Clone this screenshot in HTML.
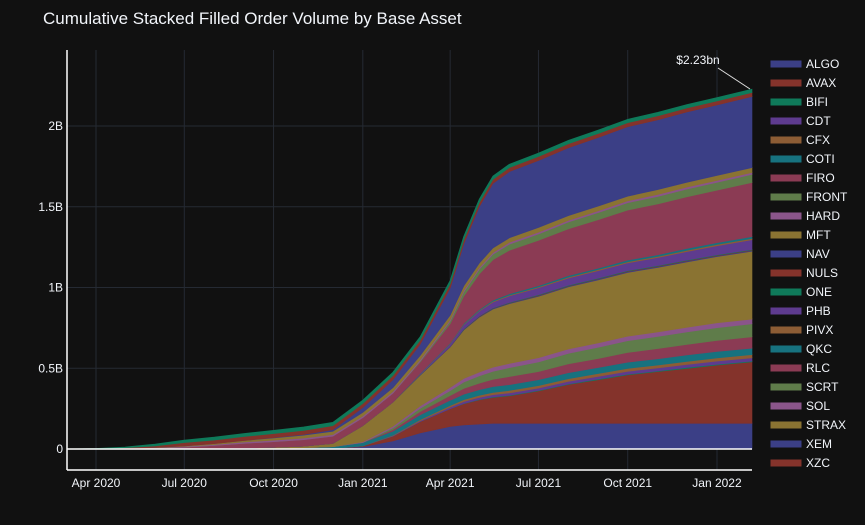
<!DOCTYPE html>
<html><head><meta charset="utf-8"><style>
html,body{margin:0;padding:0;background:#111111;}
svg{display:block;font-family:"Liberation Sans",sans-serif;}
</style></head><body>
<svg id="chart" width="865" height="525" viewBox="0 0 865 525">
<rect width="865" height="525" fill="#111111"/>
<text x="43" y="24" fill="#f2f5fa" font-size="17">Cumulative Stacked Filled Order Volume by Base Asset</text>
<g id="grid"></g>
<g id="areas"></g>
<g id="axes"></g>
<g id="legend"></g>
<line x1="718" y1="68" x2="750" y2="89" stroke="#e0e0e0" stroke-width="1"/>
<text x="698" y="64" fill="#f2f5fa" font-size="12" text-anchor="middle">$2.23bn</text>
</svg>
<script>
const dates = ["2020-03-02","2020-04-01","2020-05-01","2020-06-01","2020-07-01","2020-08-01","2020-09-01","2020-10-01","2020-11-01","2020-12-01","2021-01-01","2021-02-01","2021-03-01","2021-04-01","2021-04-15","2021-05-01","2021-05-15","2021-06-01","2021-07-01","2021-08-01","2021-09-01","2021-10-01","2021-11-01","2021-12-01","2022-01-01","2022-02-06"];
const seriesNames = ["ALGO","AVAX","BIFI","CDT","CFX","COTI","FIRO","FRONT","HARD","MFT","NAV","NULS","ONE","PHB","PIVX","QKC","RLC","SCRT","SOL","STRAX","XEM","XZC","OTHER"];
const ALGO  = [0,0,0,0,0,0,0,0,0,0.003,0.015,0.05,0.1,0.14,0.15,0.155,0.16,0.16,0.16,0.16,0.16,0.16,0.16,0.16,0.16,0.16];
const AVAX  = [0,0,0,0,0,0,0,0,0,0,0.005,0.03,0.07,0.11,0.13,0.15,0.16,0.17,0.2,0.24,0.27,0.3,0.32,0.34,0.36,0.38];
const BIFI  = [0,0,0,0,0,0,0,0,0,0,0,0,0,0,0.002,0.002,0.003,0.003,0.003,0.004,0.004,0.004,0.004,0.005,0.005,0.005];
const CDT   = [0,0,0,0,0,0,0,0,0,0,0,0.003,0.006,0.01,0.012,0.013,0.014,0.015,0.015,0.016,0.017,0.018,0.018,0.019,0.02,0.02];
const CFX   = [0,0,0,0,0,0,0,0,0,0,0,0.003,0.006,0.01,0.012,0.013,0.014,0.015,0.015,0.016,0.017,0.018,0.018,0.019,0.02,0.02];
const COTI  = [0,0,0,0,0,0,0.002,0.005,0.008,0.012,0.02,0.025,0.03,0.032,0.034,0.035,0.036,0.036,0.037,0.037,0.038,0.038,0.039,0.04,0.04,0.04];
const FIRO  = [0,0,0,0,0,0,0,0,0,0,0,0.01,0.02,0.03,0.035,0.04,0.045,0.05,0.05,0.055,0.055,0.06,0.063,0.065,0.068,0.07];
const FRONT = [0,0,0,0,0,0,0,0,0,0,0,0.01,0.02,0.03,0.04,0.045,0.05,0.055,0.06,0.065,0.07,0.073,0.075,0.077,0.079,0.08];
const HARD  = [0,0,0,0,0,0,0,0,0,0,0.005,0.01,0.015,0.02,0.022,0.024,0.025,0.026,0.026,0.027,0.027,0.028,0.028,0.029,0.03,0.03];
const MFT   = [0,0,0,0,0,0.002,0.004,0.006,0.01,0.02,0.1,0.15,0.19,0.25,0.3,0.34,0.36,0.37,0.38,0.385,0.39,0.395,0.4,0.405,0.41,0.42];
const NAV   = [0,0,0,0,0,0,0,0,0,0,0,0,0.001,0.002,0.003,0.003,0.004,0.004,0.004,0.004,0.005,0.005,0.005,0.005,0.005,0.005];
const NULS  = [0,0,0,0,0,0,0,0,0,0,0,0,0.001,0.001,0.002,0.002,0.002,0.002,0.003,0.003,0.003,0.003,0.003,0.003,0.003,0.003];
const ONE   = [0,0,0,0,0,0,0,0,0,0,0,0,0.001,0.001,0.002,0.002,0.002,0.002,0.003,0.003,0.003,0.003,0.003,0.003,0.003,0.003];
const PHB   = [0,0,0,0,0,0,0,0,0,0,0,0,0.005,0.015,0.025,0.03,0.035,0.04,0.042,0.044,0.046,0.048,0.05,0.053,0.056,0.06];
const PIVX  = [0,0,0,0,0,0,0,0,0,0,0,0,0.001,0.002,0.003,0.004,0.005,0.005,0.006,0.006,0.007,0.007,0.007,0.008,0.008,0.008];
const QKC   = [0,0,0,0,0,0,0,0,0,0,0,0,0.002,0.004,0.005,0.006,0.007,0.008,0.008,0.009,0.009,0.01,0.01,0.011,0.011,0.012];
const RLC   = [0,0.001,0.003,0.006,0.012,0.02,0.03,0.035,0.04,0.045,0.05,0.055,0.07,0.12,0.17,0.22,0.25,0.27,0.28,0.29,0.3,0.31,0.315,0.32,0.325,0.335];
const SCRT  = [0,0,0,0,0,0,0,0,0,0,0,0,0.005,0.015,0.025,0.03,0.035,0.038,0.04,0.042,0.044,0.046,0.047,0.048,0.049,0.05];
const SOL   = [0,0,0.001,0.002,0.004,0.006,0.008,0.009,0.01,0.01,0.01,0.01,0.01,0.01,0.01,0.01,0.01,0.011,0.011,0.011,0.011,0.011,0.012,0.012,0.012,0.012];
const STRAX = [0,0,0,0.002,0.004,0.006,0.01,0.014,0.018,0.02,0.022,0.024,0.026,0.027,0.028,0.028,0.028,0.028,0.029,0.029,0.029,0.029,0.03,0.03,0.03,0.03];
const XEM   = [0,0,0,0,0,0,0,0.002,0.005,0.01,0.03,0.05,0.07,0.17,0.26,0.35,0.4,0.41,0.415,0.42,0.425,0.43,0.432,0.435,0.437,0.44];
const XZC   = [0,0.001,0.004,0.01,0.02,0.022,0.024,0.025,0.025,0.025,0.025,0.025,0.025,0.025,0.025,0.025,0.025,0.025,0.025,0.025,0.025,0.025,0.025,0.025,0.025,0.025];
const OTHER = [0,0.001,0.004,0.01,0.015,0.017,0.018,0.019,0.02,0.02,0.02,0.02,0.02,0.02,0.02,0.02,0.02,0.02,0.02,0.02,0.02,0.02,0.02,0.02,0.02,0.02];
const seriesValues = [ALGO,AVAX,BIFI,CDT,CFX,COTI,FIRO,FRONT,HARD,MFT,NAV,NULS,ONE,PHB,PIVX,QKC,RLC,SCRT,SOL,STRAX,XEM,XZC,OTHER];
const yTickValues = [0,0.5,1,1.5,2];
const yTickLabels = ["0","0.5B","1B","1.5B","2B"];
const xTickDates = ["2020-04-01","2020-07-01","2020-10-01","2021-01-01","2021-04-01","2021-07-01","2021-10-01","2022-01-01"];
const xTickLabels = ["Apr 2020","Jul 2020","Oct 2020","Jan 2021","Apr 2021","Jul 2021","Oct 2021","Jan 2022"];

const palette = ["#3b3f86","#84332b","#0f7a5a","#5e3b8f","#8d5d35","#17727f","#8b3b54","#5f7c4a","#8a558a","#8a7332"];
const NS = "http://www.w3.org/2000/svg";
const X0 = Date.UTC(2020,3,1), PXD = 0.9703, XA = 96;
function xs(d){const p=d.split("-").map(Number);return XA+(Date.UTC(p[0],p[1]-1,p[2])-X0)/86400000*PXD;}
function ys(v){return 449 - v*161.5;}
function mk(tag, attrs, parent){const e=document.createElementNS(NS,tag);for(const k in attrs)e.setAttribute(k,attrs[k]);parent.appendChild(e);return e;}

const grid=document.getElementById("grid");
yTickValues.forEach((v,i)=>{
  if(v!==0){const l=mk("line",{x1:67,x2:752,y1:ys(v),y2:ys(v),stroke:"#252a33","stroke-width":1},grid);
  
  }
  const t=mk("text",{x:63,y:ys(v)+4,fill:"#f2f5fa","font-size":12,"text-anchor":"end"},grid);
  t.textContent=yTickLabels[i];
  
  
});
xTickDates.forEach((d,i)=>{
  const l=mk("line",{x1:xs(d),x2:xs(d),y1:50,y2:470,stroke:"#252a33","stroke-width":1},grid);
  
  
  const t=mk("text",{x:xs(d),y:487,fill:"#f2f5fa","font-size":12,"text-anchor":"middle"},grid);
  t.textContent=xTickLabels[i];
  
  
});

const areas=document.getElementById("areas");
let base=dates.map(()=>0);
seriesValues.forEach((vals,si)=>{
  const top=base.map((b,i)=>b+vals[i]);
  let d="M"+dates.map((dt,i)=>xs(dt).toFixed(1)+","+ys(top[i]).toFixed(1)).join("L");
  for(let i=dates.length-1;i>=0;i--) d+="L"+xs(dates[i]).toFixed(1)+","+ys(base[i]).toFixed(1);
  d+="Z";
  const c=palette[si%10];
  const p=mk("path",{d:d,fill:c,stroke:c,"stroke-width":0.8},areas);
  
  
  base=top;
});

const axes=document.getElementById("axes");
const zl=mk("line",{x1:67,x2:752,y1:449,y2:449,stroke:"#ffffff","stroke-width":1.5},axes);


const xa=mk("line",{x1:67,x2:752,y1:470,y2:470,stroke:"#ffffff","stroke-width":1.5},axes);


const ya=mk("line",{x1:67,x2:67,y1:50,y2:470,stroke:"#ffffff","stroke-width":1.5},axes);



const legend=document.getElementById("legend");
seriesNames.slice(0,22).forEach((n,i)=>{
  const y=64+i*19;
  const g=mk("g",{},legend);
  
  
  mk("rect",{x:771,y:y-3,width:30,height:6,fill:palette[i%10],stroke:palette[i%10]},g);
  const t=mk("text",{x:806,y:y+4,fill:"#f2f5fa","font-size":12},g);
  t.textContent=n;
});
</script>
</body></html>
